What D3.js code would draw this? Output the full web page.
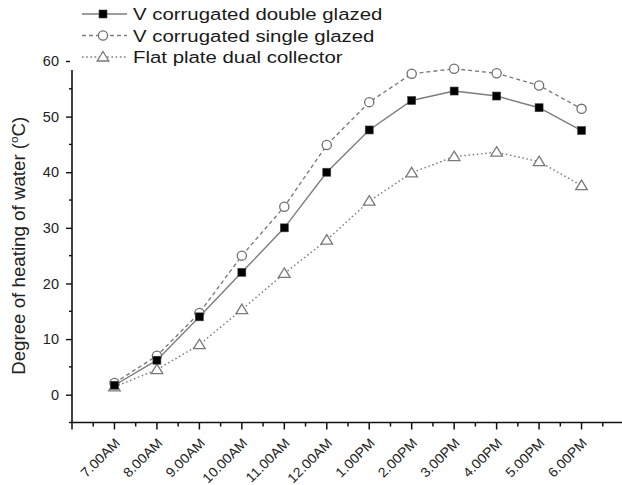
<!DOCTYPE html>
<html>
<head>
<meta charset="utf-8">
<script src="https://cdn.jsdelivr.net/npm/d3@7"></script>
<style>
  html, body { margin: 0; padding: 0; background: #fff; }
  svg { display: block; font-family: "Liberation Sans", Arial, sans-serif; }
</style>
</head>
<body>
<svg id="chart" width="622" height="485"></svg>
<script>
// Hourly time of day
const times = ["7.00AM", "8.00AM", "9.00AM", "10.00AM", "11.00AM", "12.00AM",
               "1.00PM", "2.00PM", "3.00PM", "4.00PM", "5.00PM", "6.00PM"];

// Degree of heating of water (°C) for each collector type
const doubleGlazed = [1.7, 6.2, 14.0, 22.0, 30.0, 40.0, 47.6, 52.9, 54.6, 53.7, 51.6, 47.5];
const singleGlazed = [2.1, 7.0, 14.7, 25.0, 33.8, 44.9, 52.6, 57.7, 58.6, 57.8, 55.6, 51.4];
const flatPlate    = [1.4, 4.5, 9.0, 15.3, 21.8, 27.8, 34.8, 39.9, 42.8, 43.6, 41.9, 37.6];

const seriesNames = ["V corrugated double glazed", "V corrugated single glazed", "Flat plate dual collector"];
const yTicks = [0, 10, 20, 30, 40, 50, 60];

const svg = d3.select("#chart");
const lineColor = "#7d7d7d";

// x is an hour index: -1 is the hour before the first reading
const x = d3.scaleLinear().domain([-1, 12]).range([72, 624]);
const y = d3.scaleLinear().domain([-5, 60]).range([422.5, 61]);

// ---- axes ----
const yAxis = d3.axisLeft(y).tickValues(yTicks).tickSize(6).tickPadding(7).tickSizeOuter(0);
const gy = svg.append("g").attr("transform", `translate(${x(-1)},0)`).call(yAxis);
gy.select(".domain").remove();
gy.selectAll(".tick line").attr("stroke", "#111").attr("stroke-width", 1.4);
gy.selectAll(".tick text").attr("font-size", 14.5).attr("fill", "#222")
  .attr("font-family", "Liberation Sans, Arial, sans-serif");
// minor ticks on y
gy.selectAll(".minor").data(d3.range(-5, 60, 10)).enter().append("line")
  .attr("class", "minor")
  .attr("x1", -3).attr("x2", 0)
  .attr("y1", d => y(d)).attr("y2", d => y(d))
  .attr("stroke", "#111").attr("stroke-width", 1.4);
svg.append("line")
  .attr("x1", x(-1)).attr("x2", x(-1))
  .attr("y1", y(-5)).attr("y2", y(60))
  .attr("stroke", "#111").attr("stroke-width", 1.6);

// x axis: major ticks every hour, minor ticks at half hours
const gx = svg.append("g").attr("transform", `translate(0,${y(-5)})`);
gx.append("line").attr("x1", x(-1)).attr("x2", x(12))
  .attr("stroke", "#111").attr("stroke-width", 1.6);
gx.selectAll(".major").data(d3.range(-1, 13)).enter().append("line")
  .attr("x1", d => x(d)).attr("x2", d => x(d)).attr("y1", 0).attr("y2", 7)
  .attr("stroke", "#111").attr("stroke-width", 1.5);
gx.selectAll(".minorx").data(d3.range(-0.5, 12, 1)).enter().append("line")
  .attr("x1", d => x(d)).attr("x2", d => x(d)).attr("y1", 0).attr("y2", 4)
  .attr("stroke", "#111").attr("stroke-width", 1.5);
gx.selectAll(".lbl").data(times).enter().append("text")
  .attr("transform", (d, i) => `translate(${x(i) + 3},${18}) rotate(-45) scale(1.05,1)`)
  .attr("text-anchor", "end")
  .attr("dy", "0.35em")
  .attr("font-size", 13.5)
  .attr("fill", "#222")
  .text(d => d);

// axis title
const title = svg.append("text")
  .attr("transform", `translate(25,${(y(-5) + 61) / 2 + 4}) rotate(-90) scale(1.07,1)`)
  .attr("text-anchor", "middle")
  .attr("font-size", 17.5)
  .attr("fill", "#222");
title.append("tspan").text("Degree of heating of water (");
title.append("tspan").attr("font-size", 11).attr("dy", -7).text("o");
title.append("tspan").attr("dy", 7).text("C)");

// ---- series ----
const plot = svg.append("g");
const line = d3.line().x((d, i) => x(i)).y(d => y(d));

const series = [
  { name: seriesNames[0], values: doubleGlazed, dash: null, marker: "square" },
  { name: seriesNames[1], values: singleGlazed, dash: "4,3", marker: "circle" },
  { name: seriesNames[2], values: flatPlate, dash: "1.6,2.6", marker: "triangle" }
];

function drawMarker(g, type, cx, cy) {
  if (type === "square") {
    g.append("rect").attr("x", cx - 4).attr("y", cy - 4).attr("width", 8).attr("height", 8)
      .attr("fill", "#000").attr("stroke", "#444").attr("stroke-width", 0.6);
  } else if (type === "circle") {
    g.append("circle").attr("cx", cx).attr("cy", cy).attr("r", 4.6)
      .attr("fill", "#fff").attr("stroke", "#6f6f6f").attr("stroke-width", 1.3);
  } else {
    g.append("path")
      .attr("d", `M${cx},${cy - 5.5}L${cx + 5.8},${cy + 4}L${cx - 5.8},${cy + 4}Z`)
      .attr("fill", "#fff").attr("stroke", "#7a7a7a").attr("stroke-width", 1.3);
  }
}

// flat plate first so the corrugated series sit on top
[series[2], series[1], series[0]].forEach(s => {
  plot.append("path").datum(s.values)
    .attr("d", line)
    .attr("fill", "none")
    .attr("stroke", lineColor)
    .attr("stroke-width", 1.4)
    .attr("stroke-dasharray", s.dash);
});
[series[2], series[1], series[0]].forEach(s => {
  s.values.forEach((v, i) => drawMarker(plot, s.marker, x(i), y(v)));
});

// ---- legend ----
const legend = svg.append("g");
legend.append("rect").attr("x", 70).attr("y", 0).attr("width", 330).attr("height", 70).attr("fill", "#fff");
const rowY = [14, 35.5, 57];
series.forEach((s, i) => {
  const g = legend.append("g");
  g.append("line").attr("x1", 82).attr("x2", 127).attr("y1", rowY[i]).attr("y2", rowY[i])
    .attr("stroke", lineColor).attr("stroke-width", 1.4).attr("stroke-dasharray", s.dash);
  drawMarker(g, s.marker, 103, rowY[i]);
  g.append("text")
    .attr("transform", `translate(133,${rowY[i] + 6}) scale(1.2,1)`)
    .attr("font-size", 17)
    .attr("fill", "#1a1a1a")
    .text(s.name);
});
</script>
</body>
</html>
